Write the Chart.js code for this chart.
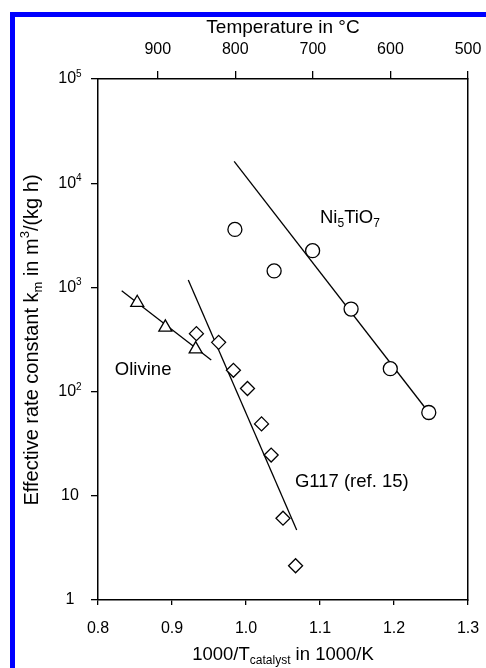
<!DOCTYPE html>
<html>
<head>
<meta charset="utf-8">
<script src="https://cdn.jsdelivr.net/npm/chart.js@4.4.1/dist/chart.umd.min.js"></script>
<style>
  body { margin: 0; background: #fff; }
  #wrap { position: relative; width: 486px; height: 668px; overflow: hidden; }
  #c { position: absolute; left: 0; top: 0; }
  .blue { position: absolute; background: #0000ff; }
</style>
</head>
<body>
<div id="wrap">
  <canvas id="c" width="486" height="668"></canvas>
  <div class="blue" style="left:10px;top:12px;width:5px;height:656px"></div>
  <div class="blue" style="left:10px;top:12px;width:476px;height:5px"></div>
</div>
<script>
// measured points (x = 1000/T in 1000/K, y = km)
const niX = [0.985, 1.038, 1.090, 1.142, 1.195, 1.247];
const niY = [3600, 1440, 2250, 620, 166, 63];
const g117X = [0.933, 0.963, 0.983, 1.002, 1.021, 1.034, 1.050, 1.067];
const g117Y = [360, 297, 160, 107, 49, 24.6, 6.1, 2.13];
const olivX = [0.853, 0.891, 0.932];
const olivY = [713, 414, 256];

// fitted lines (end points)
const niFitX = [0.984, 1.247];
const niFitY = [16200, 63];
const olivFitX = [0.832, 0.953];
const olivFitY = [930, 201];
const g117FitX = [0.922, 1.0685];
const g117FitY = [1178, 4.7];

// axes
const xTicks = [0.8, 0.9, 1.0, 1.1, 1.2, 1.3];
const tempTicks = [500, 600, 700, 800, 900];
const yTicks = [1, 10, 100, 1000, 10000, 100000];
const yTickBase = ['1', '10', '10', '10', '10', '10'];
const yTickExp = ['', '', '2', '3', '4', '5'];

const FONT = '"Liberation Sans", Arial, sans-serif';

function pts(xs, ys) {
    return xs.map(function (x, i) { return { x: x, y: ys[i] }; });
}

// draws text made of pieces, some of them sub- or superscript
function drawRich(ctx, parts, x, y, size, supShift) {
    const small = Math.round(size * 0.65);
    let w = 0;
    parts.forEach(function (p) {
        ctx.font = (p.sub || p.sup ? small : size) + 'px ' + FONT;
        p.w = ctx.measureText(p.t).width;
        w += p.w;
    });
    let cx = x - w / 2;
    ctx.textAlign = 'left';
    ctx.textBaseline = 'middle';
    parts.forEach(function (p) {
        ctx.font = (p.sub || p.sup ? small : size) + 'px ' + FONT;
        let dy = 0;
        if (p.sub) dy = size * 0.3;
        if (p.sup) dy = -size * (supShift || 0.35);
        ctx.fillText(p.t, cx, y + dy);
        cx += p.w;
    });
}

const extras = {
    id: 'extras',
    afterDraw: function (chart) {
        const ctx = chart.ctx;
        const a = chart.chartArea;
        const sx = chart.scales.x, sy = chart.scales.y;
        ctx.save();
        ctx.fillStyle = '#000';
        // y tick labels with real superscripts
        yTicks.forEach(function (v, i) {
            const parts = [{ t: yTickBase[i] }];
            if (yTickExp[i]) parts.push({ t: yTickExp[i], sup: true });
            drawRich(ctx, parts, 70, sy.getPixelForValue(v), 16, 0.3);
        });

        // series labels
        drawRich(ctx, [{ t: 'Ni' }, { t: '5', sub: true }, { t: 'TiO' }, { t: '7', sub: true }],
            sx.getPixelForValue(1.1405), sy.getPixelForValue(4635), 18.5);
        drawRich(ctx, [{ t: 'Olivine' }], sx.getPixelForValue(0.861), sy.getPixelForValue(161), 18.5);
        drawRich(ctx, [{ t: 'G117 (ref. 15)' }], sx.getPixelForValue(1.143), sy.getPixelForValue(13.6), 18.5);

        // axis titles
        drawRich(ctx, [{ t: 'Temperature in \u00b0C' }], (a.left + a.right) / 2, 28, 19);
        drawRich(ctx, [{ t: '1000/T' }, { t: 'catalyst', sub: true }, { t: ' in 1000/K' }],
            (a.left + a.right) / 2, 655, 18.5);
        ctx.translate(32, 340);
        ctx.rotate(-Math.PI / 2);
        drawRich(ctx, [{ t: 'Effective rate constant k' }, { t: 'm', sub: true }, { t: ' in m' },
            { t: '3', sup: true }, { t: '/(kg h)' }], 0, 0, 20);
        ctx.restore();
    }
};

const markerStyle = {
    showLine: false,
    borderColor: '#000',
    backgroundColor: '#fff',
    pointBorderWidth: 1.3
};
const fitStyle = {
    showLine: true,
    borderColor: '#000',
    borderWidth: 1.3,
    pointRadius: 0,
    fill: false
};

function noSidePadding(s) {
    s.paddingLeft = 0;
    s.paddingRight = 0;
}

new Chart(document.getElementById('c').getContext('2d'), {
    type: 'scatter',
    data: {
        datasets: [
            Object.assign({ label: 'Ni5TiO7', data: pts(niX, niY), pointStyle: 'circle', pointRadius: 7 }, markerStyle),
            Object.assign({ label: 'G117', data: pts(g117X, g117Y), pointStyle: 'rectRot', pointRadius: 7 }, markerStyle),
            Object.assign({ label: 'Olivine', data: pts(olivX, olivY), pointStyle: 'triangle', pointRadius: 7.5 }, markerStyle),
            Object.assign({ label: 'Ni5TiO7 fit', data: pts(niFitX, niFitY) }, fitStyle),
            Object.assign({ label: 'Olivine fit', data: pts(olivFitX, olivFitY) }, fitStyle),
            Object.assign({ label: 'G117 fit', data: pts(g117FitX, g117FitY) }, fitStyle)
        ]
    },
    options: {
        responsive: false,
        animation: false,
        devicePixelRatio: 1,
        layout: { padding: 0 },
        plugins: { legend: { display: false }, tooltip: { enabled: false } },
        scales: {
            x: {
                type: 'linear',
                position: 'bottom',
                min: 0.8,
                max: 1.3,
                afterBuildTicks: function (s) { s.ticks = xTicks.map(function (v) { return { value: v }; }); },
                afterFit: function (s) { s.height = 68; noSidePadding(s); },
                ticks: {
                    color: '#000',
                    font: { family: FONT, size: 16 },
                    padding: 14,
                    maxRotation: 0,
                    callback: function (v) { return v.toFixed(1); }
                },
                grid: { drawOnChartArea: false, color: '#000', lineWidth: 1.3, tickLength: 5 },
                border: { color: '#000', width: 1.5 }
            },
            x2: {
                type: 'linear',
                position: 'top',
                min: 500,
                max: 977,
                reverse: true,
                afterBuildTicks: function (s) { s.ticks = tempTicks.map(function (v) { return { value: v }; }); },
                afterFit: function (s) { s.height = 79; noSidePadding(s); },
                ticks: {
                    color: '#000',
                    font: { family: FONT, size: 16 },
                    padding: 12,
                    maxRotation: 0
                },
                grid: { drawOnChartArea: false, color: '#000', lineWidth: 1.3, tickLength: 8 },
                border: { color: '#000', width: 1.5 }
            },
            y: {
                type: 'logarithmic',
                position: 'left',
                min: 1,
                max: 100000,
                afterBuildTicks: function (s) { s.ticks = yTicks.map(function (v) { return { value: v }; }); },
                afterFit: function (s) { s.width = 98; s.paddingTop = 0; s.paddingBottom = 0; },
                ticks: { display: false },
                grid: { drawOnChartArea: false, color: '#000', lineWidth: 1.3, tickLength: 7 },
                border: { color: '#000', width: 1.5 }
            },
            yRight: {
                type: 'linear',
                position: 'right',
                min: 0,
                max: 1,
                afterFit: function (s) { s.width = 18; },
                ticks: { display: false },
                grid: { display: false },
                border: { display: true, color: '#000', width: 1.5 }
            }
        }
    },
    plugins: [extras]
});
</script>
</body>
</html>
